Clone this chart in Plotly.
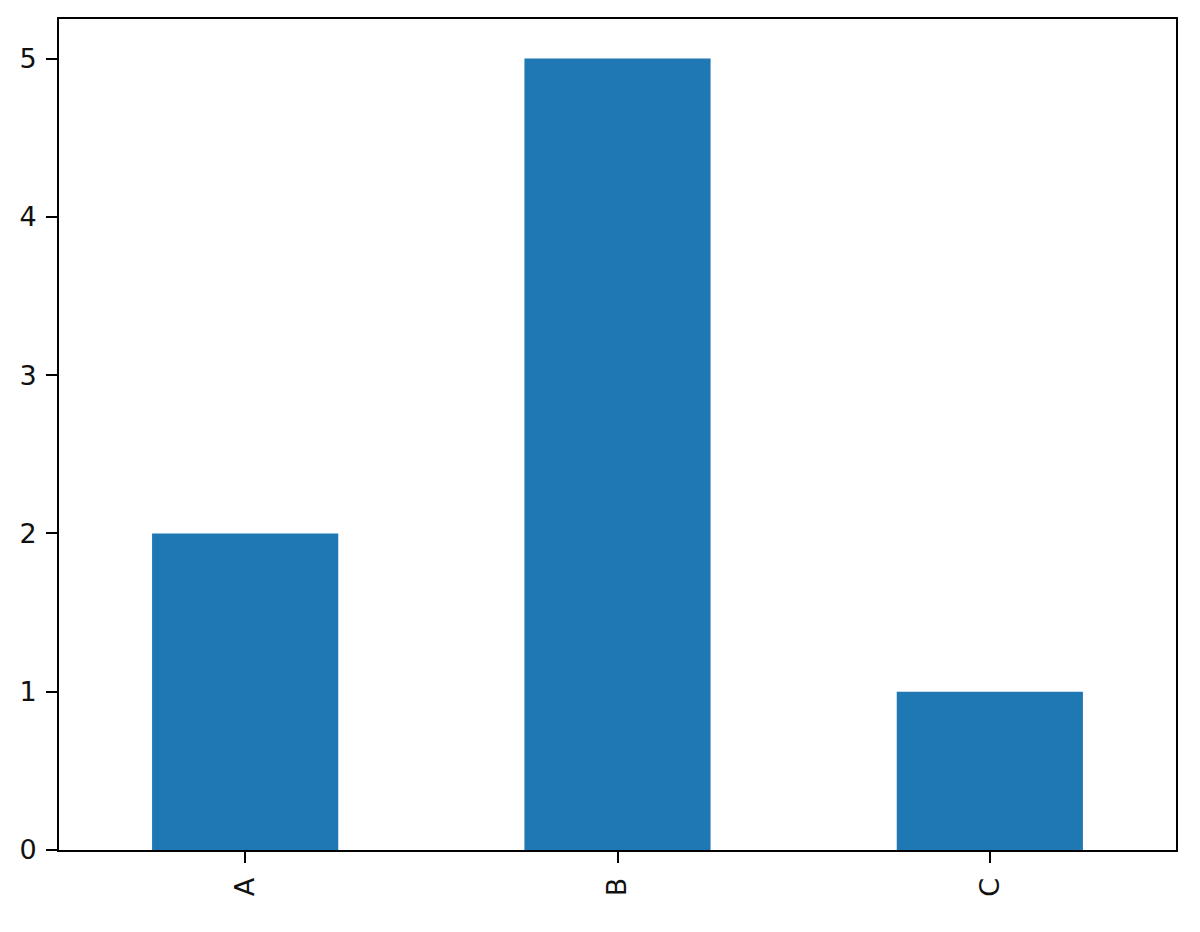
import plotly.graph_objects as go

categories = ["A", "B", "C"]
values = [2, 5, 1]

fig = go.Figure(go.Bar(x=categories, y=values, width=0.5, marker_color="#1f77b4",
                       marker_line_width=0))

axis_common = dict(showline=True, linecolor="black", linewidth=2, mirror=True,
                   ticks="outside", ticklen=11, tickwidth=2, tickcolor="black",
                   showgrid=False, zeroline=False, ticklabelstandoff=4,
                   tickfont=dict(family="DejaVu Sans", size=27, color="#111111"))

fig.update_layout(
    width=1200, height=932,
    margin=dict(l=51, r=32, t=9, b=90),
    plot_bgcolor="white", paper_bgcolor="white",
    showlegend=False,
    xaxis=dict(range=[-0.5, 2.5], tickangle=-90, **axis_common),
    yaxis=dict(range=[0, 5.25], dtick=1, tick0=0, **axis_common),
)

fig.write_html("out.html")
